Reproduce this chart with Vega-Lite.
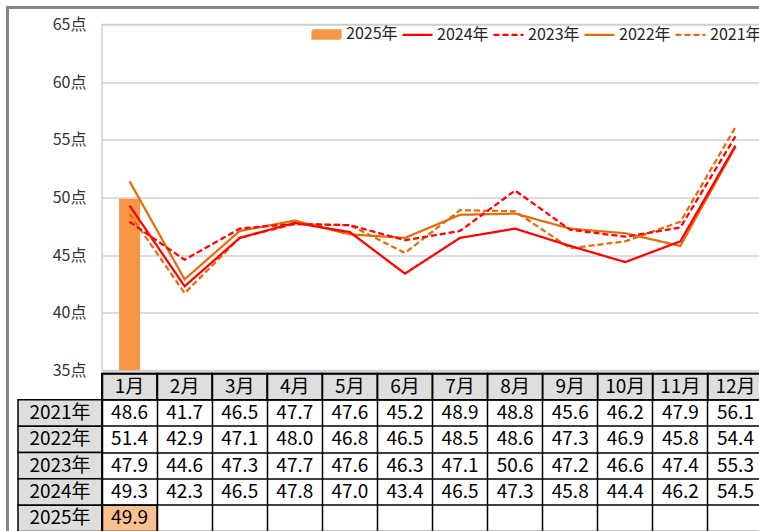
{
  "$schema": "https://vega.github.io/schema/vega-lite/v6.json",
  "padding": {"left": 5, "top": 4.5, "right": 0, "bottom": 0},
  "background": "white",
  "config": {"font": "Noto Sans CJK JP", "view": {"stroke": null}},
  "datasets": {
    "m": [
      {"series": "2021年", "month": "1月", "value": 48.6}, {"series": "2021年", "month": "2月", "value": 41.7}, {"series": "2021年", "month": "3月", "value": 46.5}, {"series": "2021年", "month": "4月", "value": 47.7}, {"series": "2021年", "month": "5月", "value": 47.6}, {"series": "2021年", "month": "6月", "value": 45.2}, {"series": "2021年", "month": "7月", "value": 48.9}, {"series": "2021年", "month": "8月", "value": 48.8}, {"series": "2021年", "month": "9月", "value": 45.6}, {"series": "2021年", "month": "10月", "value": 46.2}, {"series": "2021年", "month": "11月", "value": 47.9}, {"series": "2021年", "month": "12月", "value": 56.1},
      {"series": "2022年", "month": "1月", "value": 51.4}, {"series": "2022年", "month": "2月", "value": 42.9}, {"series": "2022年", "month": "3月", "value": 47.1}, {"series": "2022年", "month": "4月", "value": 48.0}, {"series": "2022年", "month": "5月", "value": 46.8}, {"series": "2022年", "month": "6月", "value": 46.5}, {"series": "2022年", "month": "7月", "value": 48.5}, {"series": "2022年", "month": "8月", "value": 48.6}, {"series": "2022年", "month": "9月", "value": 47.3}, {"series": "2022年", "month": "10月", "value": 46.9}, {"series": "2022年", "month": "11月", "value": 45.8}, {"series": "2022年", "month": "12月", "value": 54.4},
      {"series": "2023年", "month": "1月", "value": 47.9}, {"series": "2023年", "month": "2月", "value": 44.6}, {"series": "2023年", "month": "3月", "value": 47.3}, {"series": "2023年", "month": "4月", "value": 47.7}, {"series": "2023年", "month": "5月", "value": 47.6}, {"series": "2023年", "month": "6月", "value": 46.3}, {"series": "2023年", "month": "7月", "value": 47.1}, {"series": "2023年", "month": "8月", "value": 50.6}, {"series": "2023年", "month": "9月", "value": 47.2}, {"series": "2023年", "month": "10月", "value": 46.6}, {"series": "2023年", "month": "11月", "value": 47.4}, {"series": "2023年", "month": "12月", "value": 55.3},
      {"series": "2024年", "month": "1月", "value": 49.3}, {"series": "2024年", "month": "2月", "value": 42.3}, {"series": "2024年", "month": "3月", "value": 46.5}, {"series": "2024年", "month": "4月", "value": 47.8}, {"series": "2024年", "month": "5月", "value": 47.0}, {"series": "2024年", "month": "6月", "value": 43.4}, {"series": "2024年", "month": "7月", "value": 46.5}, {"series": "2024年", "month": "8月", "value": 47.3}, {"series": "2024年", "month": "9月", "value": 45.8}, {"series": "2024年", "month": "10月", "value": 44.4}, {"series": "2024年", "month": "11月", "value": 46.2}, {"series": "2024年", "month": "12月", "value": 54.5},
      {"series": "2025年", "month": "1月", "value": 49.9}
    ]
  },
  "columns": 2,
  "spacing": {"row": 3, "column": 0},
  "bounds": "flush",
  "resolve": {
    "scale": {"x": "independent", "y": "independent", "color": "independent", "strokeDash": "independent", "opacity": "independent"},
    "legend": {"color": "independent", "strokeDash": "independent", "opacity": "independent"}
  },
  "concat": [
    {
      "width": 84, "height": 346,
      "data": {"values": []},
      "mark": "point"
    },
    {
      "width": 661, "height": 346,
      "view": {"stroke": "#d0d0d0", "strokeWidth": 1.5},
      "data": {"name": "m"},
      "encoding": {
        "x": {"field": "month", "type": "nominal", "sort": null,
          "scale": {"domain": ["1月","2月","3月","4月","5月","6月","7月","8月","9月","10月","11月","12月"], "paddingInner": 0, "paddingOuter": 0},
          "axis": null}
      },
      "layer": [
        {
          "transform": [{"filter": "datum.series === '2025年'"}],
          "mark": {"type": "bar", "width": {"band": 0.38}},
          "encoding": {
            "y": {"field": "value", "type": "quantitative",
              "scale": {"domain": [35, 65], "nice": false, "zero": false},
              "axis": {"values": [35,40,45,50,55,60,65], "labelExpr": "datum.value + '点'", "ticks": false, "domain": false, "title": null, "grid": true, "gridColor": "#d0d0d0", "gridWidth": 1.5, "labelFontSize": 16, "labelColor": "#333333", "labelPadding": 16, "labelFont": "Noto Sans CJK JP"}},
            "y2": {"datum": 35},
            "color": {"field": "series", "type": "nominal",
              "scale": {"domain": ["2025年","2024年","2023年","2022年","2021年"], "range": ["#F79646","#FF0000","#FF0000","#E46C0A","#E46C0A"]},
              "legend": {
                "title": null, "orient": "none", "legendX": 208, "legendY": -7, "direction": "horizontal", "padding": 0,
                "labelFontSize": 16, "labelColor": "#262626", "labelFont": "Noto Sans CJK JP", "labelLimit": 0,
                "labelOffset": 3, "columnPadding": 0, "symbolSize": 900, "symbolStrokeWidth": 2.25,
                "encode": {"symbols": {"update": {
                  "shape": {"signal": "datum.value === '2025年' ? 'M-0.93,-0.27H0.93V0.27H-0.93Z' : 'stroke'"},
                  "fill": {"signal": "datum.value === '2025年' ? '#F79646' : 'transparent'"},
                  "stroke": {"signal": "datum.value === '2025年' ? 'transparent' : ((datum.value === '2024年' || datum.value === '2023年') ? '#FF0000' : '#E46C0A')"},
                  "strokeDash": {"signal": "(datum.value === '2023年' || datum.value === '2021年') ? [5,3] : [1,0]"},
                  "strokeWidth": {"value": 2.25},
                  "opacity": {"value": 1}
                }}}
              }},
            "opacity": {"datum": "frame", "type": "nominal",
              "scale": {"type": "ordinal", "range": [1]},
              "legend": {"title": null, "orient": "none", "legendX": -94.5, "legendY": -17, "padding": 400,
                "strokeColor": "#868686", "fillColor": null,
                "labelExpr": "''", "symbolSize": 0, "symbolOpacity": 0, "symbolStrokeWidth": 0, "symbolFillColor": "transparent", "labelOpacity": 0,
                "encode": {"legend": {"update": {"strokeWidth": {"value": 3}}},
                  "symbols": {"update": {"fill": {"value": "transparent"}, "stroke": {"value": "transparent"}, "size": {"value": 0}}}}}}
          }
        },
        {
          "transform": [{"filter": "datum.series !== '2025年'"}],
          "mark": {"type": "line", "strokeWidth": 2.25},
          "encoding": {
            "y": {"field": "value", "type": "quantitative"},
            "color": {"field": "series", "type": "nominal"},
            "strokeDash": {"field": "series", "type": "nominal",
              "scale": {"domain": ["2025年","2024年","2023年","2022年","2021年"], "range": [[1,0],[1,0],[6,3],[1,0],[6,3]]}}
          }
        }
      ]
    },
    {
      "width": 84, "height": 158,
      "data": {"name": "m"},
      "transform": [{"filter": "datum.month === '1月'"}],
      "encoding": {
        "x": {"datum": "label", "type": "nominal", "scale": {"paddingInner": 0, "paddingOuter": 0}, "axis": null},
        "y": {"field": "series", "type": "nominal", "sort": null,
          "scale": {"domain": ["header","2021年","2022年","2023年","2024年","2025年"], "paddingInner": 0, "paddingOuter": 0}, "axis": null}
      },
      "layer": [
        {"mark": {"type": "rect", "fill": "#dedede", "stroke": "black", "strokeWidth": 1.5}},
        {"mark": {"type": "text", "fontSize": 19, "color": "black", "font": "Noto Sans CJK JP"}, "encoding": {"text": {"field": "series"}}}
      ]
    },
    {
      "width": 661, "height": 158,
      "view": {"stroke": "black", "strokeWidth": 1.5},
      "data": {"name": "m"},
      "encoding": {
        "x": {"field": "month", "type": "nominal", "sort": null,
          "scale": {"domain": ["1月","2月","3月","4月","5月","6月","7月","8月","9月","10月","11月","12月"], "paddingInner": 0, "paddingOuter": 0},
          "axis": {"orient": "top", "grid": true, "bandPosition": 0, "labels": false, "ticks": false, "domain": false, "title": null, "gridColor": "black", "gridWidth": 1.5, "zindex": 1}}
      },
      "layer": [
        {
          "transform": [{"filter": "datum.series === '2021年'"}],
          "mark": {"type": "rect", "fill": "#dedede", "stroke": "black", "strokeWidth": 1.5},
          "encoding": {"y": {"datum": "header", "type": "nominal",
            "scale": {"domain": ["header","2021年","2022年","2023年","2024年","2025年"], "paddingInner": 0, "paddingOuter": 0},
            "axis": {"grid": true, "bandPosition": 0, "labels": false, "ticks": false, "domain": false, "title": null, "gridColor": "black", "gridWidth": 1.5, "zindex": 1}}}
        },
        {
          "transform": [{"filter": "datum.series === '2025年'"}],
          "mark": {"type": "rect", "fill": "#FAC090", "stroke": "black", "strokeWidth": 1.5},
          "encoding": {"y": {"field": "series", "type": "nominal"}}
        },
        {
          "transform": [{"filter": "datum.series === '2021年'"}],
          "mark": {"type": "text", "fontSize": 19, "color": "black", "font": "Noto Sans CJK JP"},
          "encoding": {"y": {"datum": "header", "type": "nominal"}, "text": {"field": "month"}}
        },
        {
          "mark": {"type": "text", "fontSize": 19, "color": "black", "font": "Noto Sans CJK JP"},
          "encoding": {"y": {"field": "series", "type": "nominal"}, "text": {"field": "value", "type": "quantitative", "format": ".1f"}}
        }
      ]
    }
  ]
}
